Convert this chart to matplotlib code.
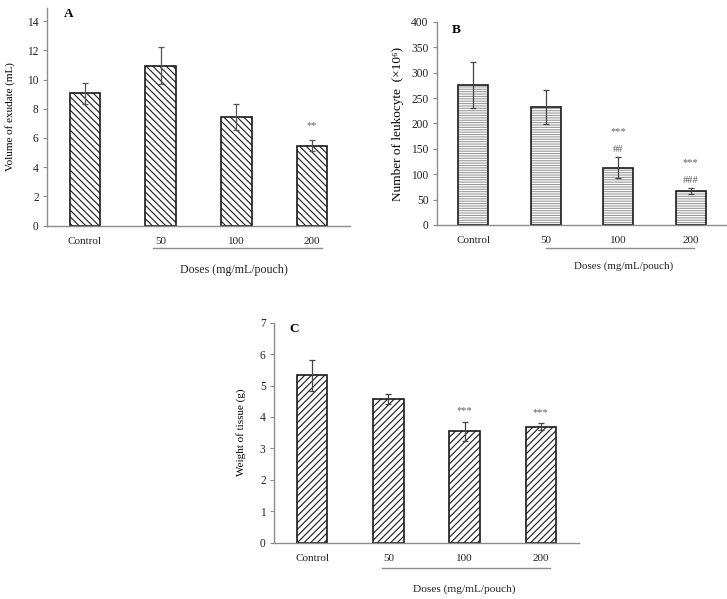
import matplotlib.pyplot as plt
import matplotlib.transforms as mtransforms

plt.rcParams['font.family'] = ['Liberation Serif', 'DejaVu Serif']
plt.rcParams['hatch.linewidth'] = 0.8

doses = ["Control", "50", "100", "200"]

exudate = [9.05, 10.95, 7.45, 5.48]
exudate_err = [0.7, 1.25, 0.9, 0.4]
exudate_marks = ["", "", "", "**"]

leukocyte = [276, 232, 113, 67]
leukocyte_err = [46, 33, 20, 5]
leukocyte_marks = ["", "", "***", "***"]
leukocyte_marks2 = ["", "", "##", "###"]

tissue = [5.32, 4.57, 3.55, 3.69]
tissue_err = [0.5, 0.15, 0.3, 0.11]
tissue_marks = ["", "", "***", "***"]

AXIS_GREY = '#8c8c8c'
TEXT_GREY = '#606060'


def style_axes(ax, ylim, yticks):
    ax.set_xlim(-0.5, 3.5)
    ax.set_ylim(*ylim)
    ax.set_yticks(yticks)
    ax.set_xticks(range(len(doses)))
    ax.set_xticklabels(doses)
    for s in ['top', 'right']:
        ax.spines[s].set_visible(False)
    for s in ['left', 'bottom']:
        ax.spines[s].set_color(AXIS_GREY)
        ax.spines[s].set_linewidth(1.0)
    ax.tick_params(axis='x', length=0, labelsize=8, pad=8, colors='#222222')
    ax.tick_params(axis='y', length=3, width=0.8, color=AXIS_GREY,
                   labelsize=8.3, pad=3, labelcolor='#222222')


def dose_bracket(ax, x0, x1, y_line, x_text, y_text, size):
    trans = mtransforms.blended_transform_factory(ax.transData, ax.transAxes)
    ax.plot([x0, x1], [y_line, y_line], color=AXIS_GREY, lw=1.0,
            transform=trans, clip_on=False)
    ax.text(x_text, y_text, "Doses (mg/mL/pouch)", transform=trans,
            ha='center', va='center', fontsize=size, color='#222222')


fig = plt.figure(figsize=(7.27, 5.99), dpi=100)
x = range(len(doses))

# Panel A
axA = fig.add_axes([0.0647, 0.6232, 0.4167, 0.3636])
axA.bar(x, exudate, width=0.4, color='white', edgecolor='#1a1a1a',
        linewidth=1.2, hatch='\\\\\\\\\\', zorder=2)
axA.errorbar(x, exudate, yerr=exudate_err, fmt='none', ecolor='#555555',
             elinewidth=0.9, capsize=2.5, capthick=0.9, zorder=3)
for i, m in enumerate(exudate_marks):
    if m:
        axA.text(i, exudate[i] + exudate_err[i] + 0.96, m, ha='center',
                 va='center', fontsize=7.5, color=TEXT_GREY)
style_axes(axA, (0, 14.9), range(0, 15, 2))
axA.set_ylabel("Volume of exudate (mL)", fontsize=8, labelpad=9)
axA.text(0.07, 1.0, "A", transform=axA.transAxes, fontsize=9.5,
         fontweight='bold', ha='center', va='top')
dose_bracket(axA, 0.9, 3.13, -0.102, 1.97, -0.203, 8.6)

# Panel B
axB = fig.add_axes([0.601, 0.6244, 0.399, 0.3389])
axB.bar(x, leukocyte, width=0.41, color='white', edgecolor='#9a9a9a',
        linewidth=0, hatch='-------', zorder=2)
axB.bar(x, leukocyte, width=0.41, color='none', edgecolor='#1a1a1a',
        linewidth=1.2, zorder=2)
axB.errorbar(x, leukocyte, yerr=leukocyte_err, fmt='none', ecolor='#444444',
             elinewidth=0.9, capsize=2.5, capthick=0.9, zorder=3)
for i, (m, m2) in enumerate(zip(leukocyte_marks, leukocyte_marks2)):
    if m:
        top = leukocyte[i] + leukocyte_err[i]
        axB.text(i, top + 16, m2, ha='center', va='center', fontsize=7.5,
                 color=TEXT_GREY)
        axB.text(i, top + 51, m, ha='center', va='center', fontsize=7.5,
                 color=TEXT_GREY)
style_axes(axB, (0, 400), range(0, 401, 50))
axB.set_ylabel("Number of leukocyte  (\u00d710\u2076)", fontsize=9.5, labelpad=5)
axB.text(0.065, 0.99, "B", transform=axB.transAxes, fontsize=9.5,
         fontweight='bold', ha='center', va='top')
dose_bracket(axB, 1.0, 3.04, -0.112, 2.08, -0.205, 7.9)

# Panel C
axC = fig.add_axes([0.3769, 0.094, 0.4195, 0.3673])
axC.bar(x, tissue, width=0.4, color='white', edgecolor='#1a1a1a',
        linewidth=1.2, hatch='/////', zorder=2)
axC.errorbar(x, tissue, yerr=tissue_err, fmt='none', ecolor='#444444',
             elinewidth=0.9, capsize=2.5, capthick=0.9, zorder=3)
for i, m in enumerate(tissue_marks):
    if m:
        y = max(tissue[i] + tissue_err[i], 3.8) + 0.35
        axC.text(i, y, m, ha='center', va='center', fontsize=7.5,
                 color=TEXT_GREY)
style_axes(axC, (0, 7), range(0, 8))
axC.set_ylabel("Weight of tissue (g)", fontsize=8, labelpad=10)
axC.text(0.065, 1.0, "C", transform=axC.transAxes, fontsize=9.5,
         fontweight='bold', ha='center', va='top')
dose_bracket(axC, 0.92, 3.12, -0.116, 2.0, -0.21, 8.2)

fig.savefig("out.png", dpi=100)
